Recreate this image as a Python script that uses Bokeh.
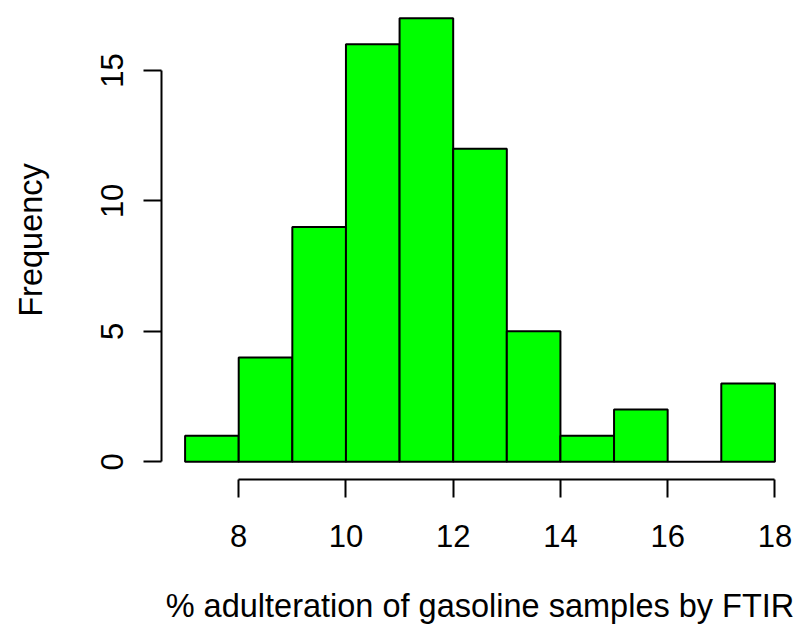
from bokeh.plotting import figure
from bokeh.models import Range1d, FixedTicker
from bokeh.embed import file_html
from bokeh.resources import INLINE

bin_left = [7, 8, 9, 10, 11, 12, 13, 14, 15, 16, 17]
bin_right = [8, 9, 10, 11, 12, 13, 14, 15, 16, 17, 18]
counts = [1, 4, 9, 16, 17, 12, 5, 1, 2, 0, 3]
x_ticks = [8, 10, 12, 14, 16, 18]
y_ticks = [0, 5, 10, 15]

FONT = "Liberation Sans"

p = figure(width=801, height=634, output_backend="svg", toolbar_location=None,
           x_range=Range1d(6.56, 18.44), y_range=Range1d(-0.68, 17.68),
           min_border_left=161, min_border_right=3, min_border_top=0, min_border_bottom=155)
p.outline_line_color = None
p.xgrid.visible = False
p.ygrid.visible = False
p.background_fill_color = "white"
p.border_fill_color = "white"

p.quad(left=bin_left, right=bin_right, top=counts, bottom=[0]*len(counts),
       fill_color="#00FF00", line_color="black", line_width=2)

xa = p.xaxis[0]
xa.ticker = FixedTicker(ticks=x_ticks)
xa.bounds = (8, 18)
xa.axis_label = "% adulteration of gasoline samples by FTIR"
ya = p.yaxis[0]
ya.ticker = FixedTicker(ticks=y_ticks)
ya.bounds = (0, 15)
ya.axis_label = "Frequency"
ya.major_label_orientation = "vertical"

for ax in (xa, ya):
    ax.axis_line_width = 2
    ax.axis_line_color = "black"
    ax.major_tick_line_width = 2
    ax.major_tick_line_color = "black"
    ax.major_tick_in = 0
    ax.major_tick_out = 18
    ax.minor_tick_line_color = None
    ax.major_label_text_font = FONT
    ax.major_label_text_font_size = "31px"
    ax.major_label_text_color = "black"
    ax.axis_label_text_font = FONT
    ax.axis_label_text_font_size = "32.5px"
    ax.axis_label_text_font_style = "normal"
    ax.axis_label_text_color = "black"

xa.major_label_standoff = 27
xa.axis_label_standoff = 38
ya.major_label_standoff = 20
ya.axis_label_standoff = 50

open("out.html", "w").write(file_html(p, INLINE))
